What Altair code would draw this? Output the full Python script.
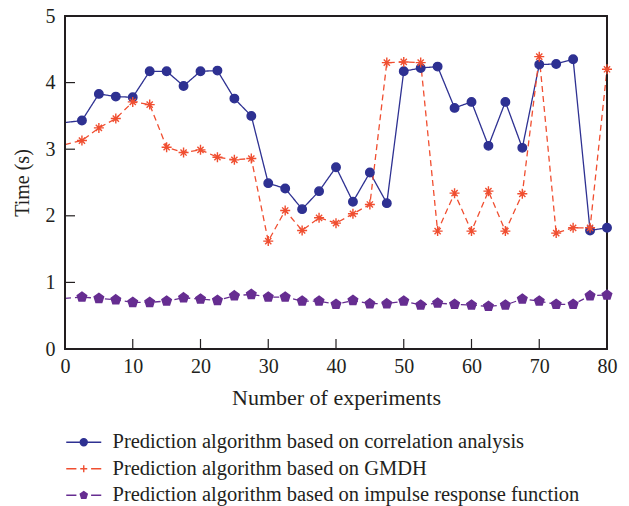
import altair as alt
import pandas as pd

# ---- data ----
x_vals = [0, 2.5, 5, 7.5, 10, 12.5, 15, 17.5, 20, 22.5, 25, 27.5, 30, 32.5, 35, 37.5, 40,
          42.5, 45, 47.5, 50, 52.5, 55, 57.5, 60, 62.5, 65, 67.5, 70, 72.5, 75, 77.5, 80]
corr_vals = [3.40, 3.43, 3.83, 3.79, 3.78, 4.17, 4.17, 3.95, 4.17, 4.18, 3.76, 3.50, 2.49,
             2.41, 2.10, 2.37, 2.73, 2.21, 2.65, 2.19, 4.17, 4.22, 4.24, 3.62, 3.71, 3.05,
             3.71, 3.02, 4.27, 4.28, 4.35, 1.78, 1.82]
gmdh_vals = [3.07, 3.13, 3.32, 3.46, 3.71, 3.67, 3.03, 2.95, 2.99, 2.88, 2.84, 2.86, 1.62,
             2.08, 1.78, 1.97, 1.89, 2.03, 2.17, 4.30, 4.31, 4.30, 1.77, 2.34, 1.77, 2.37,
             1.77, 2.33, 4.39, 1.74, 1.82, 1.82, 4.20]
impulse_vals = [0.76, 0.78, 0.76, 0.74, 0.70, 0.70, 0.72, 0.77, 0.75, 0.73, 0.80, 0.82, 0.78,
                0.78, 0.72, 0.72, 0.67, 0.73, 0.68, 0.68, 0.72, 0.66, 0.69, 0.67, 0.66, 0.64,
                0.66, 0.75, 0.72, 0.67, 0.67, 0.80, 0.81]

names = ["Prediction algorithm based on correlation analysis",
         "Prediction algorithm based on GMDH",
         "Prediction algorithm based on impulse response function"]
x_ticks = [0, 10, 20, 30, 40, 50, 60, 70, 80]
y_ticks = [0, 1, 2, 3, 4, 5]

# ---- styles ----
W, H = 542, 333
TICK = 10
colors = ["#2e3192", "#f04e30", "#662d91"]
dashes = [[1, 0], [6, 4], [6, 4]]
marker_paths = [
    "M-0.85,0A0.85,0.85 0 1,1 0.85,0A0.85,0.85 0 1,1 -0.85,0Z",
    "M0,-1L0,1M-1,0L1,0M-0.62,-0.62L0.62,0.62M-0.62,0.62L0.62,-0.62",
    "M0,-1L0.951,-0.309L0.588,0.809L-0.588,0.809L-0.951,-0.309Z",
]
legend_paths = [
    "M-5,0L5,0M-1,0A1,1 0 1,1 1,0A1,1 0 1,1 -1,0Z",
    "M-5,0L-2.1,0M2.1,0L5,0M0,-1L0,1M-1,0L1,0",
    "M-5,0L-2.1,0M2.1,0L5,0M0,-1.05L1,-0.32L0.62,0.85L-0.62,0.85L-1,-0.32Z",
]
FONT = "Liberation Serif"
INK = "#231f20"

rows = []
for name, vals in zip(names, [corr_vals, gmdh_vals, impulse_vals]):
    for xv, yv in zip(x_vals, vals):
        rows.append({"series": name, "x": xv, "y": yv})
df = pd.DataFrame(rows)
xt_df = pd.DataFrame({"x": x_ticks})
yt_df = pd.DataFrame({"y": y_ticks})

xscale = alt.Scale(domain=[0, 80], nice=False, zero=False)
yscale = alt.Scale(domain=[0, 5], nice=False)

axis_text = dict(labelFont=FONT, labelFontSize=20, labelColor=INK, labelFlush=False,
                 titleFont=FONT, titleFontWeight="normal", titleColor=INK, format="d",
                 ticks=False, domain=False, grid=False)

base = alt.Chart(df)

lines = base.mark_line(strokeWidth=1.3).encode(
    x=alt.X("x:Q", scale=xscale,
            axis=alt.Axis(values=x_ticks, title="Number of experiments", labelPadding=7,
                          titlePadding=11, titleFontSize=22, **axis_text)),
    y=alt.Y("y:Q", scale=yscale,
            axis=alt.Axis(values=y_ticks, title="Time (s)", labelPadding=10,
                          titlePadding=13, titleFontSize=20, **axis_text)),
    color=alt.Color("series:N", scale=alt.Scale(domain=names, range=colors), legend=None),
    strokeDash=alt.StrokeDash("series:N", scale=alt.Scale(domain=names, range=dashes),
                              legend=None),
)

points = base.transform_filter("datum.x > 0").mark_point(
    filled=True, opacity=1, size=100, strokeWidth=1.4
).encode(
    x=alt.X("x:Q", scale=xscale),
    y=alt.Y("y:Q", scale=yscale),
    fill=alt.Fill("series:N", scale=alt.Scale(domain=names, range=colors), legend=None),
    stroke=alt.Stroke("series:N", scale=alt.Scale(domain=names, range=colors), legend=None),
    shape=alt.Shape("series:N", scale=alt.Scale(domain=names, range=marker_paths), legend=None),
)

leg = dict(orient="none", legendX=8.5, legendY=416, title=None, labelOffset=18.5,
           symbolSize=49, symbolStrokeWidth=1.4, rowPadding=5.5, padding=0, labelLimit=0,
           symbolOpacity=1, labelFont=FONT, labelFontSize=20.5, labelColor=INK)

legend_layer = base.transform_filter("false").mark_point(
    filled=True, opacity=1, size=49, strokeWidth=1.4
).encode(
    x=alt.X("x:Q", scale=xscale),
    y=alt.Y("y:Q", scale=yscale),
    fill=alt.Fill("series:N", scale=alt.Scale(domain=names, range=colors),
                  legend=alt.Legend(**leg)),
    stroke=alt.Stroke("series:N", scale=alt.Scale(domain=names, range=colors),
                      legend=alt.Legend(**leg)),
    shape=alt.Shape("series:N", scale=alt.Scale(domain=names, range=legend_paths),
                    legend=alt.Legend(**leg)),
)

# inward axis ticks (positions along the axis come from the scales)
x_tick_marks = alt.Chart(xt_df).mark_tick(
    color=INK, thickness=1.2, size=TICK, opacity=1, orient="vertical"
).encode(
    x=alt.X("x:Q", scale=xscale),
    y=alt.value(H - TICK / 2),
)
y_tick_marks = alt.Chart(yt_df).mark_tick(
    color=INK, thickness=1.2, size=TICK, opacity=1, orient="horizontal"
).encode(
    y=alt.Y("y:Q", scale=yscale),
    x=alt.value(TICK / 2),
)

# plot frame
frame = alt.Chart(xt_df).mark_rect(fillOpacity=0, stroke=INK, strokeWidth=1.2).encode(
    x=alt.value(0), x2=alt.value(W), y=alt.value(0), y2=alt.value(H),
)

chart = alt.layer(
    lines, frame, x_tick_marks, y_tick_marks, points, legend_layer
).resolve_scale(
    shape="independent", fill="independent", stroke="independent"
).properties(
    width=W, height=H,
    background="white",
    autosize=alt.AutoSizeParams(type="none"),
    padding={"left": 57, "top": 8, "right": 14, "bottom": 157},
).configure_view(
    stroke=None
)

chart.save("out.html", embed_options={"renderer": "svg", "actions": False})
